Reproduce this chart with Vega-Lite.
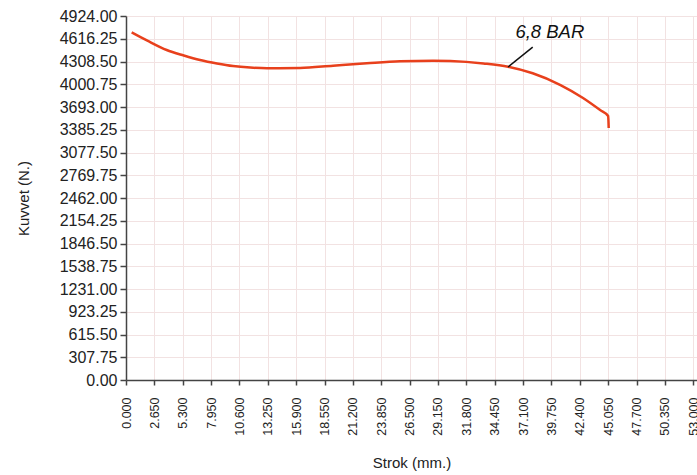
{
  "$schema": "https://vega.github.io/schema/vega-lite/v6.json",
  "autosize": {"type": "none"},
  "padding": {"left": 126, "top": 16, "right": 0, "bottom": 95},
  "width": 571,
  "height": 364,
  "background": "white",
  "config": {
    "view": {"stroke": null},
    "font": "Liberation Sans"
  },
  "datasets": {
    "curve": [
      {"i": 1, "strok": 0.53, "kuvvet": 4703},
      {"i": 2, "strok": 2.0, "kuvvet": 4590},
      {"i": 3, "strok": 3.8, "kuvvet": 4464},
      {"i": 4, "strok": 5.4, "kuvvet": 4390},
      {"i": 5, "strok": 6.92, "kuvvet": 4329},
      {"i": 6, "strok": 8.5, "kuvvet": 4282},
      {"i": 7, "strok": 10.0, "kuvvet": 4247},
      {"i": 8, "strok": 11.6, "kuvvet": 4226},
      {"i": 9, "strok": 13.18, "kuvvet": 4216},
      {"i": 10, "strok": 16.26, "kuvvet": 4220},
      {"i": 11, "strok": 19.35, "kuvvet": 4252},
      {"i": 12, "strok": 22.5, "kuvvet": 4284},
      {"i": 13, "strok": 25.6, "kuvvet": 4311},
      {"i": 14, "strok": 28.7, "kuvvet": 4319},
      {"i": 15, "strok": 30.3, "kuvvet": 4315},
      {"i": 16, "strok": 33.4, "kuvvet": 4282},
      {"i": 17, "strok": 35.7, "kuvvet": 4238},
      {"i": 18, "strok": 38.0, "kuvvet": 4149},
      {"i": 19, "strok": 40.6, "kuvvet": 3990},
      {"i": 20, "strok": 42.7, "kuvvet": 3815},
      {"i": 21, "strok": 44.3, "kuvvet": 3652},
      {"i": 22, "strok": 45.05, "kuvvet": 3571},
      {"i": 23, "strok": 45.1, "kuvvet": 3409}
    ],
    "note": [
      {"label": "6,8 BAR", "tx": 39.6, "ty": 4707, "x1": 38.0, "y1": 4504, "x2": 35.7, "y2": 4234}
    ]
  },
  "layer": [
    {
      "data": {"name": "curve"},
      "mark": {"type": "line", "color": "#e8401c", "strokeWidth": 2.5, "interpolate": "monotone"},
      "encoding": {
        "x": {
          "field": "strok", "type": "quantitative",
          "scale": {"domain": [0, 53.35], "nice": false, "zero": false},
          "axis": {
            "title": "Strok (mm.)",
            "titleFont": "Liberation Sans", "titleFontSize": 15, "titleFontWeight": "normal", "titleColor": "#222",
            "titlePadding": 20,
            "values": [0, 2.65, 5.3, 7.95, 10.6, 13.25, 15.9, 18.55, 21.2, 23.85, 26.5, 29.15, 31.8, 34.45, 37.1, 39.75, 42.4, 45.05, 47.7, 50.35, 53.0],
            "tickCount": 40,
            "format": ".3f",
            "labelAngle": -90,
            "labelFontSize": 12.5,
            "labelColor": "#222",
            "labelFont": "Liberation Sans",
            "labelPadding": 12,
            "labelOverlap": false,
            "labelBound": false,
            "labelFlush": false,
            "domainColor": "#444",
            "domainWidth": 1.5,
            "tickColor": "#444",
            "tickSize": 5,
            "tickWidth": 1.5,
            "grid": true,
            "gridColor": "#f2e2e2",
            "gridWidth": 1
          }
        },
        "y": {
          "field": "kuvvet", "type": "quantitative",
          "scale": {"domain": [0, 4924], "nice": false},
          "axis": {
            "title": "Kuvvet (N.)",
            "titleFont": "Liberation Sans", "titleFontSize": 15, "titleFontWeight": "normal", "titleColor": "#222",
            "titlePadding": 28,
            "values": [0, 307.75, 615.5, 923.25, 1231, 1538.75, 1846.5, 2154.25, 2462, 2769.75, 3077.5, 3385.25, 3693, 4000.75, 4308.5, 4616.25, 4924],
            "tickCount": 40,
            "format": ".2f",
            "labelFontSize": 16,
            "labelColor": "#222",
            "labelFont": "Liberation Sans",
            "labelPadding": 3,
            "labelOverlap": false,
            "labelFlush": false,
            "domainColor": "#444",
            "domainWidth": 1.5,
            "tickColor": "#444",
            "tickSize": 6,
            "tickWidth": 1.5,
            "grid": true,
            "gridColor": "#f2e2e2",
            "gridWidth": 1
          }
        },
        "order": {"field": "i", "type": "quantitative"}
      }
    },
    {
      "data": {"name": "note"},
      "mark": {"type": "rule", "color": "#111", "strokeWidth": 1.5},
      "encoding": {
        "x": {"field": "x1", "type": "quantitative"},
        "y": {"field": "y1", "type": "quantitative"},
        "x2": {"field": "x2"},
        "y2": {"field": "y2"}
      }
    },
    {
      "data": {"name": "note"},
      "mark": {"type": "text", "fontSize": 18.5, "fontStyle": "italic", "font": "Liberation Sans", "color": "#111", "align": "center", "baseline": "middle"},
      "encoding": {
        "x": {"field": "tx", "type": "quantitative"},
        "y": {"field": "ty", "type": "quantitative"},
        "text": {"field": "label"}
      }
    }
  ]
}
